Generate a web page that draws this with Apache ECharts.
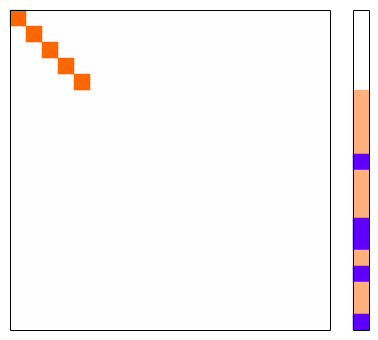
<!DOCTYPE html>
<html><head><meta charset="utf-8">
<script src="https://cdn.jsdelivr.net/npm/echarts@6/dist/echarts.min.js"></script>
<style>html,body{margin:0;padding:0;background:#fff}#c{width:378px;height:340px}</style>
</head><body><div id="c"></div>
<script>
// matrix size and highlighted diagonal cells
const nodes = Array.from({length: 20}, (_, i) => String(i));
const activeDiag = [0, 1, 2, 3, 4];
const activeValue = [1, 1, 1, 1, 1];
// group membership strip: 0 none, 1 group A, 2 group B
const stripGroups = [0,0,0,0,0,1,1,1,1,2,1,1,1,2,2,1,2,1,1,2];
const groupColors = ['#ffffff', '#ffb07c', '#5f00ff'];

const mainBox = {left: 10, top: 10, width: 320, height: 320};
const stripBox = {left: 353, top: 10, width: 16, height: 320};

const chart = echarts.init(document.getElementById('c'), null, {renderer: 'canvas'});
const mainData = activeDiag.map((d, i) => ({value: [d, d, activeValue[i]], itemStyle: {color: '#ff6600'}}));
const stripData = stripGroups.map((g, i) => ({value: [0, i, g], itemStyle: {color: groupColors[g]}}));
chart.setOption({
  animation: false,
  grid: [
    Object.assign({show: true, borderWidth: 0, backgroundColor: '#fffefe'}, mainBox),
    Object.assign({show: false}, stripBox)
  ],
  xAxis: [
    {type: 'category', data: nodes, gridIndex: 0, show: false},
    {type: 'category', data: ['g'], gridIndex: 1, show: false}
  ],
  yAxis: [
    {type: 'category', data: nodes, gridIndex: 0, inverse: true, show: false},
    {type: 'category', data: nodes, gridIndex: 1, inverse: true, show: false}
  ],
  series: [
    {type: 'heatmap', xAxisIndex: 0, yAxisIndex: 0, data: mainData, itemStyle: {borderWidth: 0}},
    {type: 'heatmap', xAxisIndex: 1, yAxisIndex: 1, data: stripData, itemStyle: {borderWidth: 0}}
  ],
  graphic: [
    {type: 'rect', z: 100, silent: true, shape: {x: mainBox.left + 0.5, y: mainBox.top + 0.5, width: mainBox.width, height: mainBox.height}, style: {fill: null, stroke: '#000', lineWidth: 1}},
    {type: 'rect', z: 100, silent: true, shape: {x: stripBox.left + 0.5, y: stripBox.top + 0.5, width: stripBox.width, height: stripBox.height}, style: {fill: null, stroke: '#000', lineWidth: 1}}
  ]
});
</script></body></html>
